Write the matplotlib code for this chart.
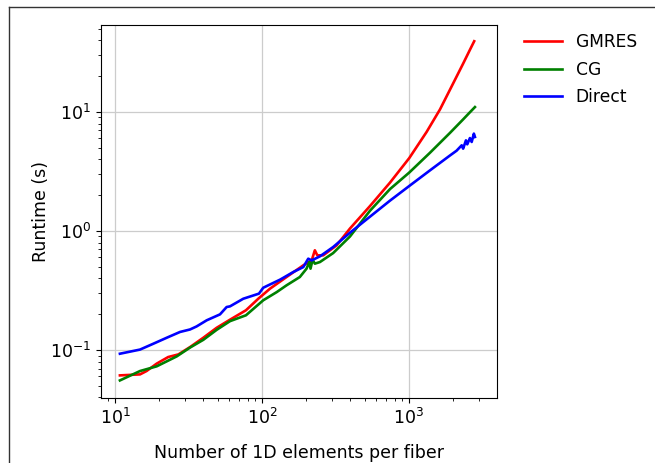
import matplotlib
matplotlib.use("Agg")
import matplotlib.pyplot as plt
from matplotlib.lines import Line2D

# ---- data ----
gmres_x = [10.8, 14.8, 16.4, 19.2, 23.0, 27.0, 32.4, 39.9, 49.2, 60.6, 77.8, 94.4, 113.4, 147, 191, 218,
           229, 238, 261, 322, 397, 543, 743, 1005, 1319, 1626, 2000, 2338, 2600, 2780]
gmres_y = [0.0613, 0.0625, 0.0667, 0.0769, 0.0874, 0.0920, 0.106, 0.127, 0.154, 0.180, 0.216, 0.270, 0.328, 0.411, 0.515, 0.567,
           0.689, 0.625, 0.625, 0.758, 1.05, 1.62, 2.55, 4.1, 6.8, 10.5, 17.4, 25.5, 33.3, 39.3]

cg_x = [10.8, 14.8, 19.2, 26.3, 32.4, 39.9, 49.2, 60.6, 77.8, 102, 126, 147, 181, 201, 210, 214, 221, 229, 248,
        305, 397, 543, 743, 1005, 1389, 1901, 2338, 2600, 2813]
cg_y = [0.0556, 0.0667, 0.0730, 0.0885, 0.105, 0.122, 0.148, 0.175, 0.196, 0.262, 0.307, 0.350, 0.411, 0.483, 0.549, 0.483, 0.575, 0.532, 0.549,
        0.653, 0.90, 1.48, 2.25, 3.1, 4.54, 6.67, 8.67, 9.95, 11.0]

direct_x = [10.8, 14.8, 18.2, 22.5, 27.7, 32.4, 35.9, 42.1, 51.8, 57.5, 60.6, 74.6, 95.4, 102, 133, 163, 191, 206.5, 218, 248,
            305, 397, 543, 743, 1005, 1389, 1901, 2109, 2286, 2338, 2443, 2494, 2600, 2673, 2766, 2813]
direct_y = [0.0932, 0.101, 0.113, 0.127, 0.142, 0.149, 0.158, 0.178, 0.1995, 0.230, 0.233, 0.270, 0.298, 0.334, 0.391, 0.452, 0.498, 0.586, 0.567, 0.613,
            0.734, 0.968, 1.32, 1.80, 2.39, 3.23, 4.31, 4.73, 5.25, 4.92, 5.78, 5.35, 6.04, 5.60, 6.58, 6.17]

series_labels = ["GMRES", "CG", "Direct"]
series_colors = ["red", "green", "blue"]

fig = plt.figure(figsize=(6.55, 4.63), dpi=100)
ax = fig.add_axes([0.1542, 0.141, 0.6046, 0.805])

for (xs, ys), lab, col in zip([(gmres_x, gmres_y), (cg_x, cg_y), (direct_x, direct_y)],
                              series_labels, series_colors):
    ax.plot(xs, ys, color=col, lw=1.9, label=lab)

ax.set_xscale("log")
ax.set_yscale("log")
ax.set_xlim(8.03, 3975)
ax.set_ylim(0.0398, 53.8)
ax.grid(True, which="major", color="#cccccc", lw=0.9)
ax.tick_params(labelsize=12.5)
ax.set_xlabel("Number of 1D elements per fiber", fontsize=12.5, labelpad=12)
ax.set_ylabel("Runtime (s)", fontsize=12.5)
ax.yaxis.set_label_coords(-0.128, 0.5)

ax.legend(loc="upper left", bbox_to_anchor=(1.03, 1.019), frameon=False,
          fontsize=12.3, handlelength=2.2, labelspacing=0.55)

# outer frame fragments (top and left) seen in the reference
fig.add_artist(Line2D([8.5 / 655, 1.0], [1 - 6.5 / 463, 1 - 6.5 / 463],
                      transform=fig.transFigure, color="#333333", lw=1.0))
fig.add_artist(Line2D([8.5 / 655, 8.5 / 655], [0.0, 1 - 6.5 / 463],
                      transform=fig.transFigure, color="#333333", lw=1.0))

fig.savefig("out.png", dpi=100)
